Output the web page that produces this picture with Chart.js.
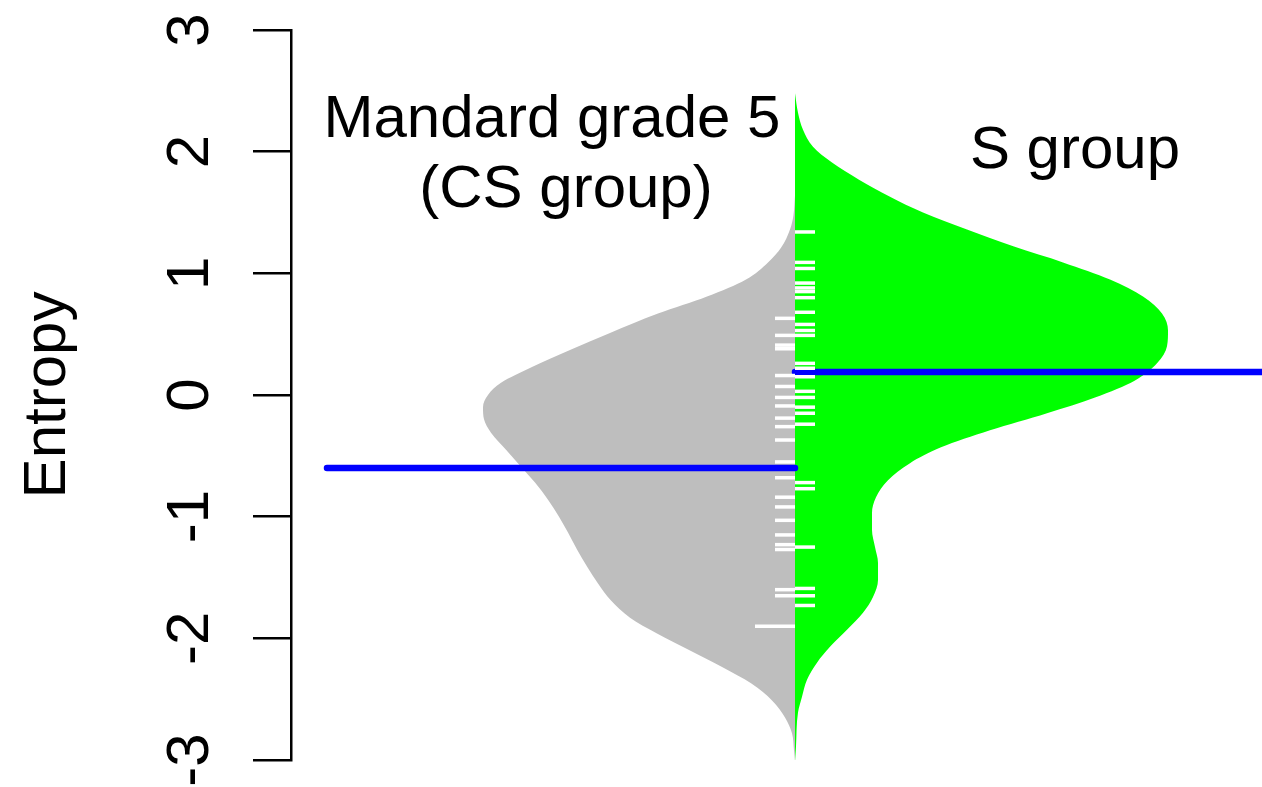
<!DOCTYPE html>
<html>
<head>
<meta charset="utf-8">
<script src="https://cdn.jsdelivr.net/npm/chart.js@4.4.1/dist/chart.umd.min.js"></script>
<style>
  html, body { margin: 0; padding: 0; background: #ffffff; }
  canvas { display: block; }
</style>
</head>
<body>
<canvas id="bean" width="1262" height="787"></canvas>
<script>
// Half-bean outline for the CS group (Mandard grade 5): entropy level -> scaled density
const levelsCS = [1.64, 1.48, 1.36, 1.21, 1.09, 0.95, 0.81, 0.67, 0.51, 0.37, 0.23, 0.10, 0.00, -0.10, -0.20,
  -0.31, -0.45, -0.59, -0.72, -0.86, -1.00, -1.13, -1.27, -1.41, -1.55, -1.69, -1.83, -1.96, -2.10,
  -2.24, -2.37, -2.51, -2.65, -2.78, -2.92, -3.02];
const densityCS = [0, 0.003, 0.010, 0.028, 0.054, 0.098, 0.176, 0.274, 0.370, 0.450, 0.526, 0.588, 0.614, 0.624, 0.622,
  0.608, 0.578, 0.548, 0.520, 0.494, 0.472, 0.454, 0.436, 0.416, 0.394, 0.368, 0.330, 0.276, 0.210,
  0.144, 0.088, 0.046, 0.020, 0.006, 0.002, 0];

// Half-bean outline for the S group
const levelsS = [2.48, 2.32, 2.18, 2.04, 1.91, 1.77, 1.63, 1.50, 1.36, 1.22, 1.09, 0.95, 0.81, 0.67, 0.53,
  0.40, 0.26, 0.12, -0.02, -0.15, -0.29, -0.43, -0.56, -0.70, -0.84, -0.97, -1.11, -1.25, -1.38, -1.52,
  -1.66, -1.79, -1.93, -2.07, -2.20, -2.34, -2.48, -2.61, -2.89, -3.02];
const densityS = [0, 0.006, 0.016, 0.036, 0.074, 0.128, 0.190, 0.256, 0.344, 0.438, 0.536, 0.630, 0.696, 0.734, 0.746,
  0.744, 0.724, 0.680, 0.600, 0.504, 0.390, 0.292, 0.230, 0.186, 0.162, 0.154, 0.154, 0.160, 0.166, 0.166,
  0.156, 0.136, 0.104, 0.070, 0.044, 0.024, 0.014, 0.006, 0.002, 0];

// Individual observations (rug lines)
const entropyCS = [0.63, 0.49, 0.41, 0.38, 0.16, 0.07, -0.02, -0.09, -0.19, -0.26, -0.37, -0.55, -0.68,
  -0.84, -0.92, -1.03, -1.15, -1.23, -1.27, -1.60, -1.65, -1.90, -1.90];
const entropyS = [1.34, 1.09, 1.04, 0.92, 0.88, 0.85, 0.80, 0.68, 0.58, 0.53, 0.49, 0.26, 0.22, 0.15,
  0.03, -0.02, -0.10, -0.15, -0.24, -0.72, -0.77, -1.25, -1.59, -1.65, -1.73];

// Group means drawn as the blue bean lines
const groupMeans = [-0.60, 0.19];

const yTicks = [-3, -2, -1, 0, 1, 2, 3];
const labelCS = ['Mandard grade 5', '(CS group)'];
const labelS = ['S group'];
const axisTitle = 'Entropy';

const FONT = '60px "Liberation Sans", Arial, Helvetica, sans-serif';
const RUG_LEN = 0.04;
const MEAN_LEN = 0.936;

function outline(levels, dens, side) {
  return levels.map((v, i) => ({ x: side * dens[i], y: v }));
}

function rugSets(values, side, order) {
  const counts = new Map();
  values.forEach(v => counts.set(v, (counts.get(v) || 0) + 1));
  const sets = [];
  counts.forEach((n, v) => {
    sets.push({
      data: [{ x: side * RUG_LEN * n, y: v }, { x: 0, y: v }],
      borderColor: '#ffffff', borderWidth: 3.5, borderCapStyle: 'butt',
      pointRadius: 0, showLine: true, fill: false, tension: 0, order: order
    });
  });
  return sets;
}

function beanSet(levels, dens, side, color, order) {
  return {
    data: outline(levels, dens, side),
    indexAxis: 'y',
    backgroundColor: color, borderWidth: 0, borderColor: 'rgba(0,0,0,0)',
    pointRadius: 0, showLine: true, fill: 'shape',
    cubicInterpolationMode: 'monotone', order: order
  };
}

const datasets = [
  beanSet(levelsCS, densityCS, -1, '#bebebe', 5),
  beanSet(levelsS, densityS, 1, '#00ff00', 4),
  {
    data: [{ x: 0, y: groupMeans[1] }, { x: MEAN_LEN, y: groupMeans[1] }],
    borderColor: '#0000ff', borderWidth: 6.5, borderCapStyle: 'round',
    pointRadius: 0, showLine: true, fill: false, tension: 0, order: 3
  },
  ...rugSets(entropyCS, -1, 2),
  ...rugSets(entropyS, 1, 2),
  {
    data: [{ x: -MEAN_LEN, y: groupMeans[0] }, { x: 0, y: groupMeans[0] }],
    borderColor: '#0000ff', borderWidth: 6.5, borderCapStyle: 'round',
    pointRadius: 0, showLine: true, fill: false, tension: 0, order: 1
  }
];

// Rotated tick labels, axis title and group captions
const textPlugin = {
  id: 'beanText',
  afterDraw(chart) {
    const ctx = chart.ctx;
    const xs = chart.scales.x, ys = chart.scales.y;
    const left = chart.chartArea.left;
    ctx.save();
    ctx.fillStyle = '#000000';
    ctx.font = FONT;
    ctx.textAlign = 'center';
    ctx.textBaseline = 'alphabetic';
    yTicks.forEach(t => {
      ctx.save();
      ctx.translate(left - 83, ys.getPixelForValue(t));
      ctx.rotate(-Math.PI / 2);
      ctx.fillText(String(t), 0, 0);
      ctx.restore();
    });
    ctx.save();
    ctx.translate(left - 226, ys.getPixelForValue(0));
    ctx.rotate(-Math.PI / 2);
    ctx.fillText(axisTitle, 0, 0);
    ctx.restore();
    ctx.fillText(labelCS[0], xs.getPixelForValue(-0.486), ys.getPixelForValue(2.12));
    ctx.fillText(labelCS[1], xs.getPixelForValue(-0.458), ys.getPixelForValue(1.545));
    ctx.fillText(labelS[0], xs.getPixelForValue(0.56), ys.getPixelForValue(1.866));
    ctx.restore();
  }
};

new Chart(document.getElementById('bean'), {
  type: 'scatter',
  data: { datasets },
  options: {
    responsive: false,
    animation: false,
    devicePixelRatio: 1,
    layout: { padding: { top: 30, bottom: 27, left: 0, right: 0 } },
    plugins: { legend: { display: false }, tooltip: { enabled: false } },
    scales: {
      x: { type: 'linear', min: -1.008, max: 0.934, display: false },
      y: {
        type: 'linear', position: 'left', min: -3, max: 3,
        ticks: { display: false, stepSize: 1 },
        grid: { drawOnChartArea: false, drawTicks: true, tickLength: 38, color: '#000000', lineWidth: 2.5 },
        border: { display: true, color: '#000000', width: 2.5 },
        afterFit(scale) { scale.width = 291; }
      }
    }
  },
  plugins: [textPlugin]
});
</script>
</body>
</html>
